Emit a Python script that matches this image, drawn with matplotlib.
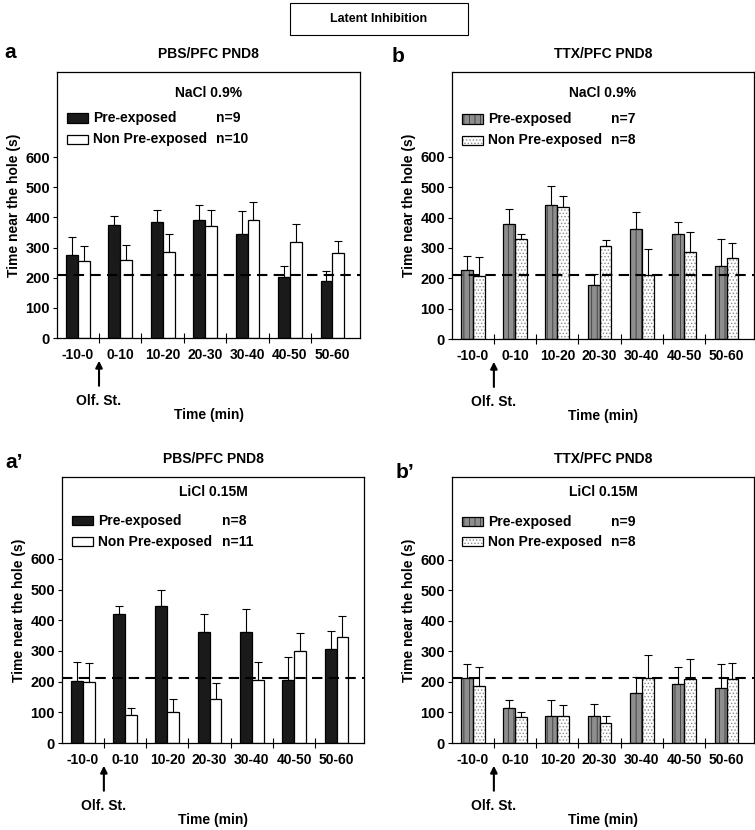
import matplotlib
matplotlib.use("Agg")
import matplotlib.pyplot as plt
from matplotlib.patches import Rectangle

plt.rcParams['font.family'] = ['Liberation Sans', 'DejaVu Sans']
plt.rcParams['font.weight'] = 'bold'
plt.rcParams['axes.labelweight'] = 'bold'
plt.rcParams['hatch.linewidth'] = 0.6

# data
categories = ['-10-0', '0-10', '10-20', '20-30', '30-40', '40-50', '50-60']

a_pre = [275, 375, 385, 390, 345, 203, 188]
a_pre_err = [335, 405, 425, 440, 422, 240, 222]
a_non = [255, 258, 285, 372, 390, 318, 282]
a_non_err = [305, 308, 345, 425, 452, 378, 323]

b_pre = [228, 380, 442, 178, 362, 347, 240]
b_pre_err = [275, 428, 503, 215, 418, 385, 330]
b_non = [207, 330, 435, 305, 212, 288, 267]
b_non_err = [270, 347, 472, 327, 298, 352, 318]

a2_pre = [203, 420, 448, 362, 362, 205, 305]
a2_pre_err = [263, 446, 500, 420, 436, 280, 365]
a2_non = [200, 92, 100, 142, 205, 300, 347]
a2_non_err = [260, 115, 142, 195, 265, 360, 415]

b2_pre = [212, 115, 88, 88, 165, 195, 180]
b2_pre_err = [258, 142, 140, 128, 217, 248, 260]
b2_non = [187, 85, 87, 67, 212, 210, 210]
b2_non_err = [250, 102, 125, 88, 290, 277, 262]

baseline = [210, 210, 213, 213]
n_pre = ['n=9', 'n=7', 'n=8', 'n=9']
n_non = ['n=10', 'n=8', 'n=11', 'n=8']
letters = ['a', 'b', 'a\u2019', 'b\u2019']
titles = ['PBS/PFC PND8', 'TTX/PFC PND8', 'PBS/PFC PND8', 'TTX/PFC PND8']
treat = ['NaCl 0.9%', 'NaCl 0.9%', 'LiCl 0.15M', 'LiCl 0.15M']

W, H = 755, 830
fig = plt.figure(figsize=(W / 100, H / 100), dpi=100)

# axes boxes in pixels: left, top, right, bottom
boxes = [(57, 72, 360, 338), (452, 72, 754, 339), (62, 477, 364, 743), (452, 477, 754, 743)]
ymaxs = [882, 880, 867, 872]
leg_y = [(0.921, 0.827, 0.748), (0.921, 0.824, 0.745), (0.944, 0.835, 0.756), (0.944, 0.831, 0.756)]
n_x = [0.525, 0.525, 0.53, 0.525]
lab_xy = [(10, 52), (398, 56), (14, 462), (405, 472)]

panels = [(a_pre, a_pre_err, a_non, a_non_err, False),
          (b_pre, b_pre_err, b_non, b_non_err, True),
          (a2_pre, a2_pre_err, a2_non, a2_non_err, False),
          (b2_pre, b2_pre_err, b2_non, b2_non_err, True)]

bw = 0.28
x = list(range(len(categories)))

for k, (pre, pre_e, non, non_e, ttx) in enumerate(panels):
    l, t, r, b = boxes[k]
    ax = fig.add_axes([l / W, 1 - b / H, (r - l) / W, (b - t) / H])
    xp = [i - bw / 2 for i in x]
    xn = [i + bw / 2 for i in x]

    if ttx:
        ax.bar(xp, pre, bw, color='#8e8e8e', edgecolor='#3a3a3a', hatch='|||', lw=0, zorder=2)
        ax.bar(xn, non, bw, color='white', edgecolor='#8a8a8a', hatch='.....', lw=0, zorder=2)
        ax.bar(xp, pre, bw, fill=False, edgecolor='black', lw=0.9, zorder=3)
        ax.bar(xn, non, bw, fill=False, edgecolor='black', lw=0.9, zorder=3)
    else:
        ax.bar(xp, pre, bw, color='#1a1a1a', edgecolor='black', lw=0.9, zorder=2)
        ax.bar(xn, non, bw, color='white', edgecolor='black', lw=0.9, zorder=2)

    up_p = [e - v for v, e in zip(pre, pre_e)]
    up_n = [e - v for v, e in zip(non, non_e)]
    ax.errorbar(xp, pre, yerr=[[0] * len(pre), up_p], fmt='none', ecolor='black',
                elinewidth=0.8, capsize=3, capthick=0.8, zorder=1)
    ax.errorbar(xn, non, yerr=[[0] * len(non), up_n], fmt='none', ecolor='black',
                elinewidth=0.8, capsize=3, capthick=0.8, zorder=1)

    ax.axhline(baseline[k], color='black', lw=1.5, ls=(0, (5, 3)), zorder=4)

    ax.set_xlim(-0.49, 6.65)
    ax.set_ylim(0, ymaxs[k])
    ax.set_yticks([0, 100, 200, 300, 400, 500, 600])
    ax.tick_params(axis='y', direction='out', length=3, width=0.8, labelsize=10.5, pad=2)
    ax.set_xticks([i + 0.5 for i in x[:-1]])
    ax.set_xticklabels([])
    ax.tick_params(axis='x', which='major', direction='inout', length=7, width=0.8)
    ax.set_xticks(x, minor=True)
    ax.set_xticklabels(categories, minor=True, fontsize=10)
    ax.tick_params(axis='x', which='minor', length=0, pad=7)
    for s in ax.spines.values():
        s.set_linewidth(0.9)

    ax.set_ylabel('Time near the hole (s)', fontsize=10, labelpad=3)
    ax.set_xlabel('Time (min)', fontsize=10)
    ax.xaxis.set_label_coords(0.5, -0.262)
    ax.set_title(titles[k], fontsize=10, fontweight='bold', pad=10)

    # Olf. St. arrow
    tr = ax.get_xaxis_transform()
    ax.annotate('', xy=(0.5, -0.075), xytext=(0.5, -0.19), xycoords=tr, textcoords=tr,
                arrowprops=dict(arrowstyle='-|>', color='black', lw=1.5, mutation_scale=10))
    ax.text(0.5, -0.235, 'Olf. St.', transform=tr, ha='center', va='center', fontsize=10)

    # legend
    ty, r1, r2 = leg_y[k]
    ax.text(0.5, ty, treat[k], transform=ax.transAxes, ha='center', va='center', fontsize=10)
    for yy, lab, nn, pre_row in [(r1, 'Pre-exposed', n_pre[k], True), (r2, 'Non Pre-exposed', n_non[k], False)]:
        ph = 0.034
        if ttx:
            if pre_row:
                ax.add_patch(Rectangle((0.033, yy - ph / 2), 0.069, ph, transform=ax.transAxes,
                                       facecolor='#8e8e8e', edgecolor='#3a3a3a', hatch='|||', lw=0))
            else:
                ax.add_patch(Rectangle((0.033, yy - ph / 2), 0.069, ph, transform=ax.transAxes,
                                       facecolor='white', edgecolor='#8a8a8a', hatch='.....', lw=0))
            ax.add_patch(Rectangle((0.033, yy - ph / 2), 0.069, ph, transform=ax.transAxes,
                                   fill=False, edgecolor='black', lw=0.9))
        else:
            ax.add_patch(Rectangle((0.033, yy - ph / 2), 0.069, ph, transform=ax.transAxes,
                                   facecolor='#1a1a1a' if pre_row else 'white', edgecolor='black', lw=0.9))
        ax.text(0.119, yy, lab, transform=ax.transAxes, ha='left', va='center', fontsize=10)
        ax.text(n_x[k], yy, nn, transform=ax.transAxes, ha='left', va='center', fontsize=10)

    fig.text(lab_xy[k][0] / W, 1 - lab_xy[k][1] / H, letters[k], ha='center', va='center',
             fontsize=15, fontweight='bold')

# header box
fig.add_artist(Rectangle((290 / W, 1 - 35 / H), 178 / W, 32 / H, transform=fig.transFigure,
                         fill=False, edgecolor='black', lw=0.8))
fig.text(379 / W, 1 - 19 / H, 'Latent Inhibition', ha='center', va='center', fontsize=9)

fig.savefig('out.png', dpi=100)
